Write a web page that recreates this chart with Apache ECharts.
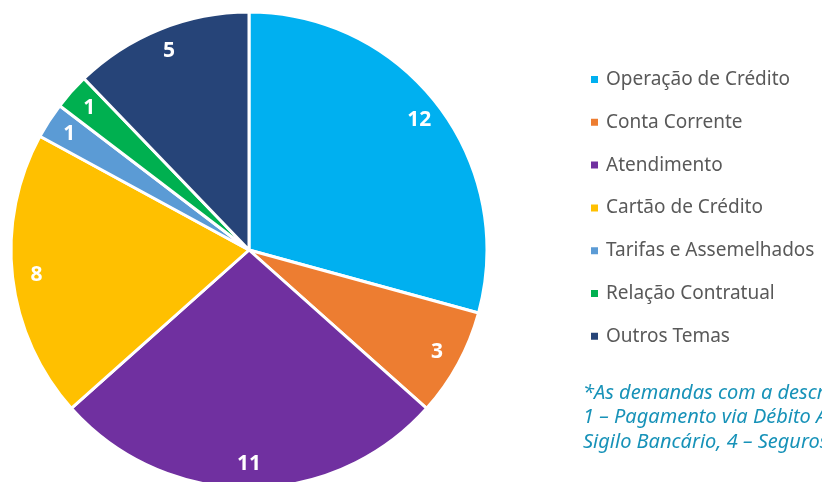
<!DOCTYPE html>
<html>
<head>
<meta charset="utf-8">
<script src="https://cdn.jsdelivr.net/npm/echarts@6/dist/echarts.min.js"></script>
<style>
  html, body { margin: 0; padding: 0; background: #fff; }
  #chart { width: 822px; height: 482px; }
</style>
</head>
<body>
<div id="chart"></div>
<script>
// dados do gráfico
var categorias = ['Operação de Crédito', 'Conta Corrente', 'Atendimento', 'Cartão de Crédito', 'Tarifas e Assemelhados', 'Relação Contratual', 'Outros Temas'];
var valores = [12, 3, 11, 8, 1, 1, 5];
var cores = ['#00B0F0', '#ED7D31', '#7030A0', '#FFC000', '#5B9BD5', '#00B050', '#264478'];
var nota = [
  '*As demandas com a descrição Outros Temas',
  '1 – Pagamento via Débito Automático,',
  'Sigilo Bancário, 4 – Seguros'
];

var dados = categorias.map(function (c, i) {
  return { name: c, value: valores[i], itemStyle: { color: cores[i] } };
});

var myChart = echarts.init(document.getElementById('chart'));
var option = {
  animation: false,
  legend: {
    orient: 'vertical',
    left: 589,
    top: 70,
    padding: 0,
    itemWidth: 9,
    itemHeight: 9,
    itemGap: 23.8,
    icon: 'rect',
    selectedMode: false,
    textStyle: { fontFamily: 'Noto Sans', fontSize: 19, color: '#595959', padding: [0, 0, 0, 2] },
    data: categorias.map(function (c, i) {
      return { name: c, itemStyle: { color: cores[i] } };
    })
  },
  graphic: [{
    type: 'text',
    left: 583,
    top: 381,
    style: {
      text: nota.join('\n'),
      fontFamily: 'Noto Sans',
      fontStyle: 'italic',
      fontSize: 20,
      lineHeight: 24.5,
      fill: '#1792B8'
    }
  }],
  series: [{
    type: 'pie',
    center: [249, 250],
    radius: [0, 238],
    startAngle: 90,
    silent: true,
    label: { show: false },
    labelLine: { show: false },
    itemStyle: { borderColor: '#fff', borderWidth: 3 },
    data: dados
  }, {
    // só para os rótulos perto da borda
    type: 'pie',
    center: [249, 250],
    radius: [184, 238],
    startAngle: 90,
    silent: true,
    itemStyle: { color: 'rgba(0,0,0,0)' },
    label: {
      show: true,
      position: 'inside',
      formatter: '{c}',
      color: '#fff',
      fontFamily: 'Noto Sans',
      fontWeight: 'bold',
      fontSize: 21
    },
    labelLine: { show: false },
    data: categorias.map(function (c, i) { return { name: c, value: valores[i] }; })
  }]
};
myChart.setOption(option);
window.onresize = function () { myChart.resize(); };
</script>
</body>
</html>
